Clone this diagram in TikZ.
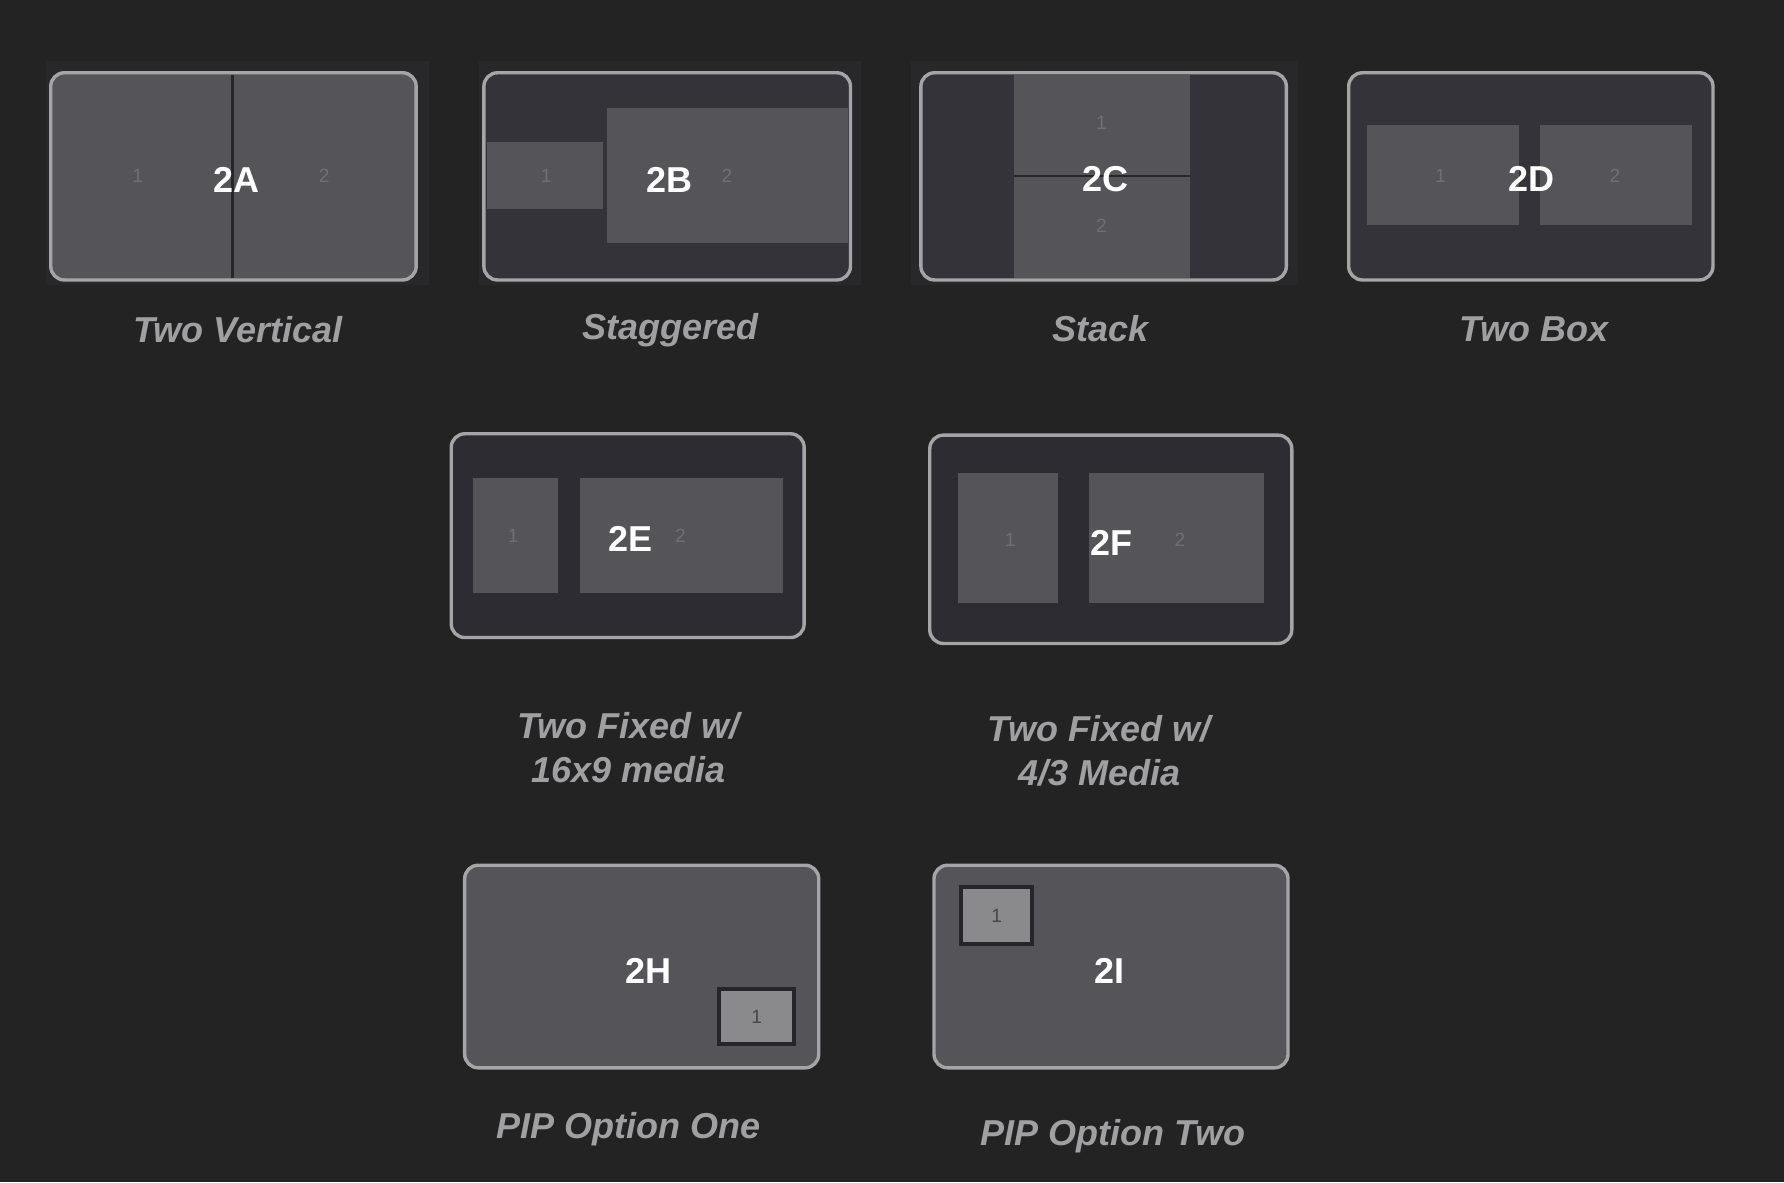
\documentclass[tikz,border=0pt]{standalone}
\usepackage{fontspec}
\setmainfont{Liberation Sans}
\definecolor{backdrop}{RGB}{35,35,36}
\definecolor{halo}{RGB}{40,40,43}
\definecolor{pane}{RGB}{85,84,89}
\definecolor{void}{RGB}{52,51,58}
\definecolor{voiddeep}{RGB}{45,44,50}
\definecolor{rim}{RGB}{165,165,168}
\definecolor{seam}{RGB}{38,38,42}
\definecolor{digit}{RGB}{112,111,117}
\definecolor{digitdark}{RGB}{70,70,74}
\definecolor{inset}{RGB}{138,138,140}
\definecolor{captext}{RGB}{160,160,162}
\tikzset{
    screen/.style={draw=rim, line width=0.85pt, rounded corners=3.4pt, inner sep=0pt},
    panel/.style={fill=pane},
    pip/.style={draw=seam, line width=0.9pt, fill=inset, inner sep=0pt, anchor=north west,
        text=digitdark, font=\fontsize{4.8}{6}\selectfont},
    tag/.style={text=white, font=\fontsize{9}{11}\selectfont\bfseries, anchor=base, inner sep=0pt},
    slot/.style={text=digit, font=\fontsize{4.8}{6}\selectfont, anchor=base, inner sep=0pt},
    caption/.style={text=captext, font=\fontsize{9}{11}\selectfont\bfseries\itshape,
        align=center, anchor=base, inner sep=0pt}
}

\begin{document}
\begin{tikzpicture}[x=0.01cm, y=-0.01cm]
\tikzstyle{row one}=[screen, minimum height=1.82cm]
\tikzstyle{divider}=[draw=seam, line width=0.7pt]

\fill[backdrop] (0,0) rectangle (1568,1039);
\useasboundingbox (0,0) rectangle (1568,1039);

\fill[halo] (40,54) rectangle (377,250.5);
\fill[halo] (421,54) rectangle (757,250.5);
\fill[halo] (801,54) rectangle (1141,250.5);

\node[row one, fill=pane, minimum width=3.21cm] (boxA) at (205.2,155) {};
\draw[divider] (204.3,65.5) -- (204.3,244.5);
\node[slot] (slotA1) at (121,160) {1};
\node[slot] (slotA2) at (285,160) {2};
\node[tag] (tagA) at (208,169.5) {2A};
\node[caption] (capA) at (209,301) {Two Vertical};

\node[row one, fill=void, minimum width=3.22cm] (boxB) at (586.4,155) {};
\fill[panel] (427.8,124.5) rectangle (529.7,184);
\fill[panel] (533.6,95.2) rectangle (745.6,213.3);
\node[slot] (slotB1) at (480,160) {1};
\node[slot] (slotB2) at (639,160) {2};
\node[tag] (tagB) at (588.7,169.5) {2B};
\node[caption] (capB) at (589,298.5) {Staggered};

\node[row one, fill=void, minimum width=3.21cm] (boxC) at (970,155) {};
\fill[panel] (891,65.5) rectangle (1046,244.5);
\draw[divider] (891,154.7) -- (1046,154.7);
\node[slot] (slotC1) at (968,114) {1};
\node[slot] (slotC2) at (968,204) {2};
\node[tag] (tagC) at (972,168.5) {2C};
\node[caption] (capC) at (967,300.5) {Stack};

\node[row one, fill=void, minimum width=3.20cm] (boxD) at (1345.5,155) {};
\fill[panel] (1201.5,110) rectangle (1335,197.8);
\fill[panel] (1353.5,110) rectangle (1486.8,197.8);
\node[slot] (slotD1) at (1266,160) {1};
\node[slot] (slotD2) at (1419.5,160) {2};
\node[tag] (tagD) at (1346.5,168.5) {2D};
\node[caption] (capD) at (1348,300.5) {Two Box};

\node[screen, fill=voiddeep, minimum width=3.10cm, minimum height=1.79cm] (boxE) at (551.7,470.8) {};
\fill[panel] (415.5,420) rectangle (490,521);
\fill[panel] (510,420) rectangle (688,521);
\node[slot] (slotE1) at (451,477) {1};
\node[slot] (slotE2) at (598,477) {2};
\node[tag] (tagE) at (554,485) {2E};
\node[caption] (capE) at (552.5,687.5) {Two Fixed w/\\16x9 media};

\node[screen, fill=voiddeep, minimum width=3.18cm, minimum height=1.83cm] (boxF) at (976.3,474) {};
\fill[panel] (842,415.5) rectangle (930,529.7);
\fill[panel] (957,415.5) rectangle (1111,529.7);
\node[slot] (slotF1) at (888,480) {1};
\node[slot] (slotF2) at (1037,480) {2};
\node[tag] (tagF) at (977,488) {2F};
\node[caption] (capF) at (966,690.5) {Two Fixed w/\\4/3 Media};

\node[screen, fill=pane, minimum width=3.11cm, minimum height=1.78cm] (boxH) at (564,849.5) {};
\node[pip, minimum width=0.66cm, minimum height=0.484cm] (pipH) at (630.4,867.7) {1};
\node[tag] (tagH) at (570,864) {2H};
\node[caption] (capH) at (552,1000.5) {PIP Option One};

\node[screen, fill=pane, minimum width=3.11cm, minimum height=1.78cm] (boxI) at (976.5,849.5) {};
\node[pip, minimum width=0.623cm, minimum height=0.504cm] (pipI) at (843.3,777.8) {1};
\node[tag] (tagI) at (975,864) {2I};
\node[caption] (capI) at (978,1006.5) {PIP Option Two};
\end{tikzpicture}
\end{document}
